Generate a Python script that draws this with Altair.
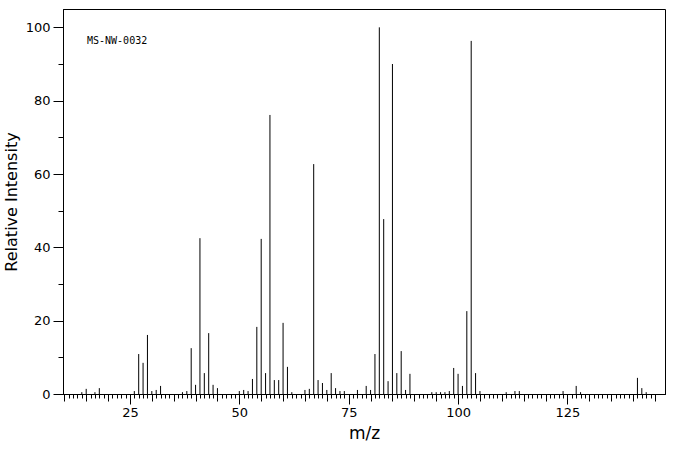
import altair as alt
import pandas as pd

mz = [14, 15, 17, 18, 26, 27, 28, 29, 30, 31, 32, 37, 38, 39, 40, 41, 42, 43, 44, 45,
      50, 51, 52, 53, 54, 55, 56, 57, 58, 59, 60, 61, 62, 65, 66, 67, 68, 69, 70, 71,
      72, 73, 74, 77, 79, 80, 81, 82, 83, 84, 85, 86, 87, 88, 89, 94, 95, 96, 97, 98,
      99, 100, 101, 102, 103, 104, 105, 111, 113, 114, 124, 127, 128, 141, 142, 143]
intensity = [0.5, 1.4, 0.5, 1.6, 0.8, 10.9, 8.5, 16.1, 0.8, 1.1, 2.2, 0.5, 0.8, 12.5, 2.5, 42.5, 5.7, 16.6, 2.5, 1.6,
             0.8, 1.1, 0.8, 4.1, 18.3, 42.3, 5.7, 76.1, 3.8, 3.8, 19.4, 7.4, 0.5, 1.1, 1.4, 62.7, 3.8, 3.0, 1.1, 5.7,
             1.6, 0.8, 0.8, 1.1, 2.2, 1.1, 10.9, 100.0, 47.7, 3.5, 90.0, 5.7, 11.7, 1.1, 5.5, 0.5, 0.5, 0.5, 0.5, 0.8,
             7.1, 5.5, 2.2, 22.6, 96.3, 5.7, 0.8, 0.5, 0.8, 0.8, 0.8, 2.2, 0.5, 4.4, 1.6, 0.5]

x_minor = list(range(10, 146))
x_mid = list(range(10, 146, 5))
x_major = [25, 50, 75, 100, 125]
y_major = [0, 20, 40, 60, 80, 100]
y_minor = [10, 30, 50, 70, 90]
label_text = "MS-NW-0032"

df = pd.DataFrame({"mz": mz, "intensity": intensity})

xscale = alt.Scale(domain=[9.7, 147.3], nice=False, zero=False)
yscale = alt.Scale(domain=[0, 105], nice=False)

FONT = "DejaVu Sans"

main = alt.Chart(df).mark_rule(color="black", strokeWidth=1).encode(
    x=alt.X("mz:Q", scale=xscale,
            axis=alt.Axis(values=x_major, tickSize=10, title="m/z", orient="bottom",
                          labelFont=FONT, labelFontSize=13, labelColor="black",
                          titleFont=FONT, titleFontSize=17, titleFontWeight="normal",
                          titleColor="black", labelPadding=2, titlePadding=6,
                          domainColor="black", tickColor="black", grid=False)),
    y=alt.Y("intensity:Q", scale=yscale,
            axis=alt.Axis(values=y_major, tickSize=10, title="Relative Intensity", orient="left",
                          labelFont=FONT, labelFontSize=13, labelColor="black",
                          titleFont=FONT, titleFontSize=16, titleFontWeight="normal",
                          titleColor="black", labelPadding=3, titlePadding=6,
                          domainColor="black", tickColor="black", grid=False)),
    y2=alt.datum(0),
)

minor = alt.Chart(df).mark_rule(strokeOpacity=0).encode(
    x=alt.X("mz:Q", scale=xscale,
            axis=alt.Axis(values=x_minor, tickSize=4, labels=False, title=None, orient="bottom",
                          domainColor="black", tickColor="black", grid=False)),
    y=alt.Y("intensity:Q", scale=yscale,
            axis=alt.Axis(values=y_minor, tickSize=5, labels=False, title=None, orient="left",
                          domainColor="black", tickColor="black", grid=False)),
)

mid = alt.Chart(df).mark_rule(strokeOpacity=0).encode(
    x=alt.X("mz:Q", scale=xscale,
            axis=alt.Axis(values=x_mid, tickSize=7, labels=False, title=None, orient="bottom",
                          domainColor="black", tickColor="black", grid=False)),
    y=alt.Y("intensity:Q", scale=yscale, axis=None),
)

label = alt.Chart(pd.DataFrame({"t": [label_text]})).mark_text(
    font="DejaVu Sans Mono", fontSize=10, align="left", baseline="middle", color="black"
).encode(x=alt.value(24), y=alt.value(32), text="t:N")

chart = alt.layer(main, minor, mid, label).resolve_axis(
    x="independent", y="independent"
).properties(
    width=602, height=385,
    padding={"left": 63, "top": 9, "right": 11, "bottom": 61},
    autosize=alt.AutoSizeParams(type="none"),
    background="white",
).configure_view(stroke="black", strokeWidth=1)

chart.save("out.html", embed_options={"renderer": "svg", "actions": False})
